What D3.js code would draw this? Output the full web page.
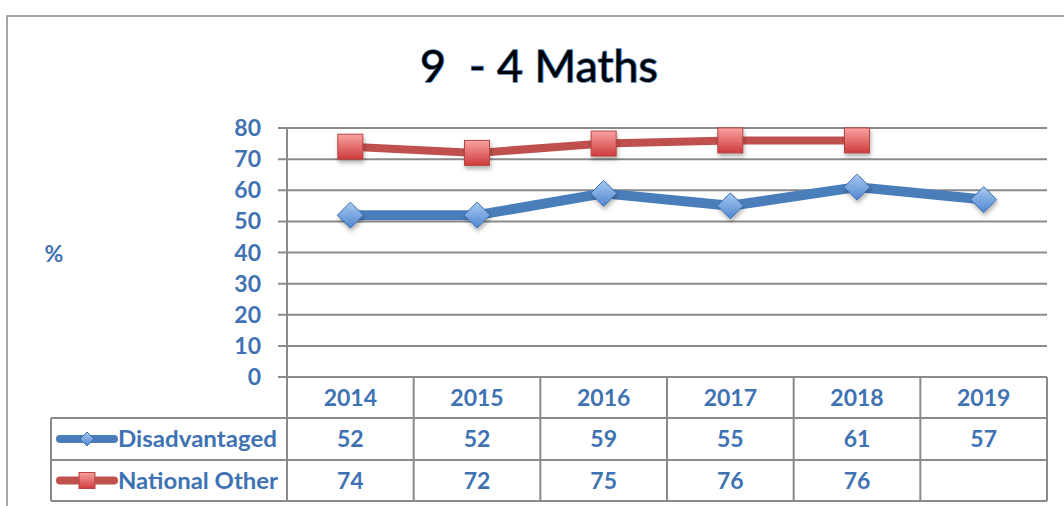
<!DOCTYPE html>
<html>
<head>
<meta charset="utf-8">
<script src="https://cdn.jsdelivr.net/npm/d3@7"></script>
<style>
  body { margin: 0; background: #fff; }
  svg text { font-family: Lato, "Open Sans", sans-serif; white-space: pre; }
</style>
</head>
<body>
<div id="chart"></div>
<script>
const years = ['2014', '2015', '2016', '2017', '2018', '2019']
const disadvantaged = [52, 52, 59, 55, 61, 57]
const nationalOther = [74, 72, 75, 76, 76, null]
const yTicks = [0, 10, 20, 30, 40, 50, 60, 70, 80]
const seriesNames = ['Disadvantaged', 'National Other']

const width = 1064, height = 506
const svg = d3.select('#chart').append('svg')
    .attr('width', width).attr('height', height)

const defs = svg.append('defs')
const gBlue = defs.append('linearGradient').attr('id', 'gBlue').attr('x1', 0).attr('y1', 0).attr('x2', 0).attr('y2', 1)
gBlue.append('stop').attr('offset', '0%').attr('stop-color', '#a9c9f2')
gBlue.append('stop').attr('offset', '100%').attr('stop-color', '#4f86cf')
const gRed = defs.append('linearGradient').attr('id', 'gRed').attr('x1', 0).attr('y1', 0).attr('x2', 0).attr('y2', 1)
gRed.append('stop').attr('offset', '0%').attr('stop-color', '#f9a3a3')
gRed.append('stop').attr('offset', '100%').attr('stop-color', '#cf3b3b')
const shadow = defs.append('filter').attr('id', 'shadow').attr('x', '-50%').attr('y', '-50%').attr('width', '200%').attr('height', '200%')
shadow.append('feDropShadow').attr('dx', 1).attr('dy', 3).attr('stdDeviation', 2).attr('flood-color', '#000').attr('flood-opacity', 0.3)

// outer chart frame
svg.append('rect').attr('x', 7).attr('y', 16).attr('width', 1070).attr('height', 510)
    .attr('fill', 'none').attr('stroke', '#8c8c8c').attr('stroke-width', 1.5)

// title
svg.append('text').attr('x', 539).attr('y', 82).attr('text-anchor', 'middle')
    .attr('font-size', 44).attr('fill', '#000').attr('stroke', '#4f81bd').attr('stroke-width', 1.6)
    .attr('paint-order', 'stroke')
    .attr('textLength', 238).attr('lengthAdjust', 'spacingAndGlyphs')
    .text('9  - 4 Maths')

const plotLeft = 287, plotRight = 1047, plotTop = 128, plotBottom = 377
const x = d3.scaleBand().domain(years).range([plotLeft, plotRight])
const y = d3.scaleLinear().domain([0, 80]).range([plotBottom, plotTop])

const blueText = '#3f72b3'

// gridlines
svg.append('g').selectAll('line').data(yTicks).join('line')
    .attr('x1', plotLeft - 9).attr('x2', plotRight)
    .attr('y1', d => y(d)).attr('y2', d => y(d))
    .attr('stroke', '#8a8a8a').attr('stroke-width', 2)

// y axis line
svg.append('line').attr('x1', plotLeft).attr('x2', plotLeft)
    .attr('y1', plotTop).attr('y2', plotBottom)
    .attr('stroke', '#8a8a8a').attr('stroke-width', 2)

// y tick labels
svg.append('g').selectAll('text').data(yTicks).join('text')
    .attr('x', 261).attr('y', d => y(d)).attr('dy', '0.35em')
    .attr('text-anchor', 'end').attr('font-size', 23).attr('font-weight', 'bold')
    .attr('fill', blueText).text(d => d)

svg.append('text').attr('x', 54).attr('y', 254).attr('dy', '0.35em')
    .attr('text-anchor', 'middle').attr('font-size', 23).attr('font-weight', 'bold')
    .attr('fill', blueText).text('%')

// lines
const cx = d => x(d) + x.bandwidth() / 2
const line = d3.line().defined(d => d.v != null).x(d => cx(d.year)).y(d => y(d.v))

const blueData = years.map((yr, i) => ({ year: yr, v: disadvantaged[i] }))
const redData = years.map((yr, i) => ({ year: yr, v: nationalOther[i] }))

svg.append('path').datum(redData).attr('d', line)
    .attr('fill', 'none').attr('stroke', '#c0504d').attr('stroke-width', 8).attr('stroke-linejoin', 'round')
svg.append('path').datum(blueData).attr('d', line)
    .attr('fill', 'none').attr('stroke', '#4a7ebb').attr('stroke-width', 10).attr('stroke-linejoin', 'round')

const diamond = 'M0,-13L13,0L0,13L-13,0Z'
svg.append('g').selectAll('path').data(blueData.filter(d => d.v != null)).join('path')
    .attr('d', diamond)
    .attr('transform', d => `translate(${cx(d.year)},${y(d.v)})`)
    .attr('fill', 'url(#gBlue)').attr('stroke', '#3c6fae').attr('stroke-width', 1)
    .attr('filter', 'url(#shadow)')

svg.append('g').selectAll('rect').data(redData.filter(d => d.v != null)).join('rect')
    .attr('x', d => cx(d.year) - 12.5).attr('y', d => y(d.v) - 12.5)
    .attr('width', 25).attr('height', 25)
    .attr('fill', 'url(#gRed)').attr('stroke', '#b64543').attr('stroke-width', 1)
    .attr('filter', 'url(#shadow)')

// data table
const rowTops = [377, 418, 460, 501]
const tableLeft = 51
const grid = svg.append('g').attr('stroke', '#8a8a8a').attr('stroke-width', 2)
// horizontal lines
grid.append('line').attr('x1', plotLeft).attr('x2', plotRight).attr('y1', rowTops[0]).attr('y2', rowTops[0])
rowTops.slice(1).forEach(t => {
  grid.append('line').attr('x1', tableLeft).attr('x2', plotRight).attr('y1', t).attr('y2', t)
})
// vertical lines
grid.append('line').attr('x1', tableLeft).attr('x2', tableLeft).attr('y1', rowTops[1]).attr('y2', rowTops[3])
years.forEach(yr => {
  grid.append('line').attr('x1', x(yr)).attr('x2', x(yr)).attr('y1', rowTops[0]).attr('y2', rowTops[3])
})
grid.append('line').attr('x1', plotRight).attr('x2', plotRight).attr('y1', rowTops[0]).attr('y2', rowTops[3])

const cellText = (sel) => sel.attr('text-anchor', 'middle').attr('dy', '0.35em')
    .attr('font-size', 23).attr('font-weight', 'bold').attr('fill', blueText)

svg.append('g').selectAll('text').data(years).join('text')
    .attr('x', d => cx(d)).attr('y', (rowTops[0] + rowTops[1]) / 2)
    .call(cellText).text(d => d)

const rows = [disadvantaged, nationalOther]
rows.forEach((vals, r) => {
  const yMid = (rowTops[r + 1] + rowTops[r + 2]) / 2
  svg.append('g').selectAll('text').data(years.map((yr, i) => ({ yr, v: vals[i] })).filter(d => d.v != null)).join('text')
      .attr('x', d => cx(d.yr)).attr('y', yMid)
      .call(cellText).text(d => d.v)

  // legend key
  const lg = svg.append('g')
  const col = r === 0 ? '#4a7ebb' : '#c0504d'
  lg.append('line').attr('x1', 60).attr('x2', 114).attr('y1', yMid).attr('y2', yMid)
      .attr('stroke', col).attr('stroke-width', 8).attr('stroke-linecap', 'round')
  if (r === 0) {
    lg.append('path').attr('d', 'M0,-7L7,0L0,7L-7,0Z').attr('transform', `translate(87,${yMid})`)
        .attr('fill', 'url(#gBlue)').attr('stroke', '#3c6fae').attr('stroke-width', 1)
  } else {
    lg.append('rect').attr('x', 79).attr('y', yMid - 8).attr('width', 16).attr('height', 16)
        .attr('fill', 'url(#gRed)').attr('stroke', '#b64543').attr('stroke-width', 1)
  }
  lg.append('text').attr('x', 118).attr('y', yMid).attr('dy', '0.35em')
      .attr('font-size', 23).attr('font-weight', 'bold').attr('fill', blueText)
      .attr('textLength', r === 0 ? 159 : 160).attr('lengthAdjust', 'spacingAndGlyphs')
      .text(seriesNames[r])
})
</script>
</body>
</html>
